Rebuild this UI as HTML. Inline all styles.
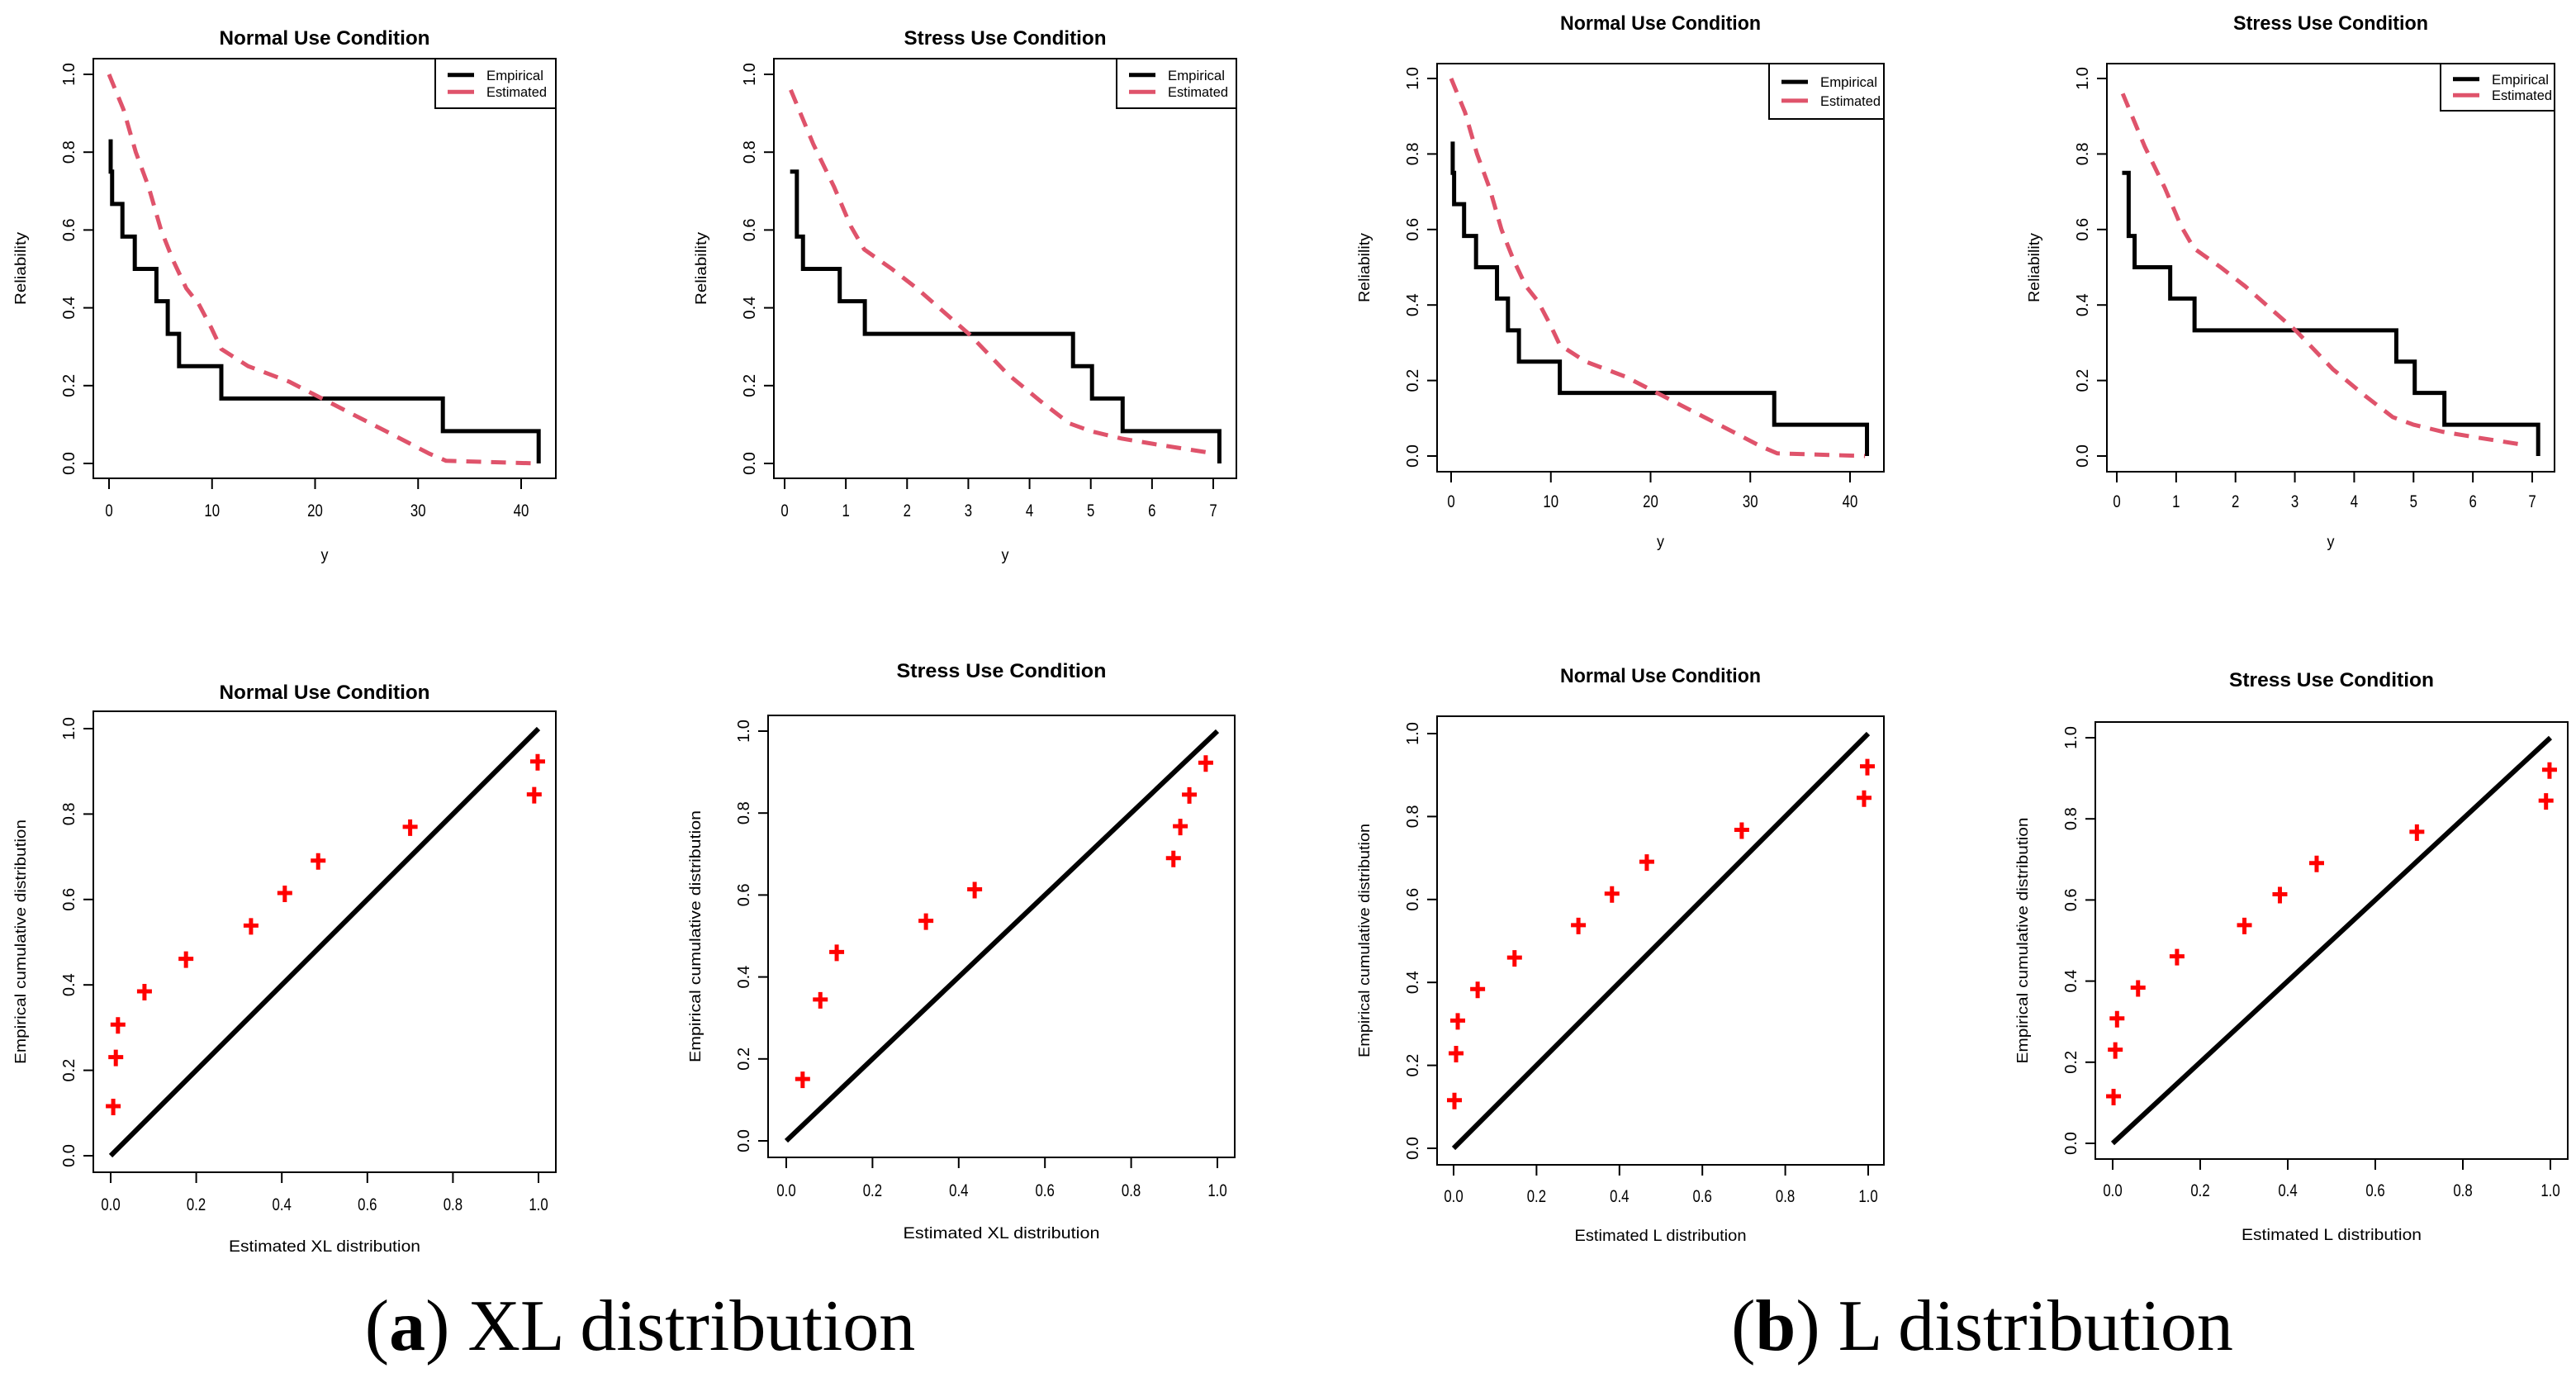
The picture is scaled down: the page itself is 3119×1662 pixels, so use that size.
<!DOCTYPE html>
<html><head><meta charset="utf-8"><style>
html,body{margin:0;padding:0;background:#fff;}
svg{display:block;font-family:"Liberation Sans",sans-serif;}
</style></head><body>
<svg id="fig" width="3119" height="1662" viewBox="0 0 3119 1662" xmlns="http://www.w3.org/2000/svg">
<rect x="0" y="0" width="3119" height="1662" fill="#fff"/>
<text x="775" y="1634" font-family="Liberation Serif, serif" font-size="88" text-anchor="middle">(<tspan font-weight="bold">a</tspan>) XL distribution</text>
<text x="2400" y="1634" font-family="Liberation Serif, serif" font-size="88" text-anchor="middle">(<tspan font-weight="bold">b</tspan>) L distribution</text>
</svg>
<script>
// ---- Data: reliability, normal use ----
const normEmpTimes = [0.16, 0.3, 1.3, 2.5, 4.6, 5.7, 6.8, 10.9, 32.4, 41.7];
const normEmpLevels = [0.75, 0.667, 0.583, 0.5, 0.417, 0.333, 0.25, 0.167, 0.083, 0];
const normEmpStart = 0.833;
const normEstT = [0, 1.4, 2.6, 3.85, 5.05, 6.25, 7.5, 8.7, 9.9, 10.9, 13.5, 17.5, 20, 23.9, 27.9, 31.1, 32.7, 41.5];
const normEstR = [1.0, 0.91, 0.80, 0.71, 0.60, 0.52, 0.45, 0.41, 0.35, 0.294, 0.25, 0.21, 0.176, 0.123, 0.069, 0.025, 0.007, 0.0];
// ---- Data: reliability, stress use ----
const strEmpTimes = [0.2, 0.3, 0.9, 1.31, 4.71, 5.02, 5.52, 7.1];
const strEmpLevels = [0.583, 0.5, 0.417, 0.333, 0.25, 0.167, 0.083, 0];
const strEmpStart = 0.75;
const strEmpStartT = 0.09;
const strEstT = [0.1, 0.47, 0.81, 1.08, 1.3, 1.75, 2.16, 3.03, 3.64, 4.18, 4.65, 5.0, 5.5, 6.07, 6.88];
const strEstR = [0.96, 0.82, 0.71, 0.61, 0.55, 0.50, 0.45, 0.33, 0.23, 0.16, 0.103, 0.083, 0.064, 0.049, 0.029];
// ---- Data: PP plots ----
const ppXLNormX = [0.006, 0.012, 0.017, 0.079, 0.176, 0.328, 0.407, 0.485, 0.70, 0.99, 0.998];
const ppXLNormY = [0.116, 0.231, 0.307, 0.385, 0.461, 0.539, 0.615, 0.691, 0.77, 0.846, 0.923];
const ppXLStrX = [0.038, 0.079, 0.117, 0.324, 0.437, 0.898, 0.914, 0.935, 0.973];
const ppXLStrY = [0.151, 0.345, 0.461, 0.537, 0.614, 0.690, 0.768, 0.845, 0.923];
const ppLNormX = [0.002, 0.006, 0.01, 0.058, 0.147, 0.301, 0.382, 0.466, 0.695, 0.99, 0.998];
const ppLNormY = [0.116, 0.229, 0.308, 0.384, 0.46, 0.538, 0.614, 0.691, 0.768, 0.845, 0.921];
const ppLStrX = [0.002, 0.006, 0.01, 0.058, 0.147, 0.301, 0.382, 0.466, 0.695, 0.99, 0.998];
const ppLStrY = [0.116, 0.231, 0.308, 0.384, 0.461, 0.538, 0.614, 0.691, 0.768, 0.845, 0.921];
const yTicksR = [0, 0.2, 0.4, 0.6, 0.8, 1.0];
const yTickLabels = ["0.0", "0.2", "0.4", "0.6", "0.8", "1.0"];
const xTicksNorm = [0, 10, 20, 30, 40];
const xTicksStr = [0, 1, 2, 3, 4, 5, 6, 7];
const xTicksPP = [0, 0.2, 0.4, 0.6, 0.8, 1.0];
const xTickLabelsPP = ["0.0", "0.2", "0.4", "0.6", "0.8", "1.0"];

const NS = "http://www.w3.org/2000/svg";
const svg = document.getElementById("fig");
function mk(tag, parent, attrs) {
  const e = document.createElementNS(NS, tag);
  for (const k in attrs) e.setAttribute(k, attrs[k]);
  parent.appendChild(e);
  return e;
}
function panel(c) {
  const g = mk("g", svg, {});
  
  
  const sx = v => c.x0 + (v - c.d0) / (c.d1 - c.d0) * (c.x1 - c.x0);
  const sy = v => c.y0 + v * (c.y1 - c.y0);
  const box = mk("rect", g, {x: c.bl, y: c.bt, width: c.br - c.bl, height: c.bb - c.bt, fill: "none", stroke: "#000", "stroke-width": 2});
  
  
  const title = mk("text", g, {x: (c.bl + c.br) / 2, y: c.ty, "text-anchor": "middle", "font-size": 24, "font-weight": "bold", textLength: c.tw, lengthAdjust: "spacingAndGlyphs"});
  title.textContent = c.title;
  
  
  c.xt.forEach((v, i) => {
    const x = sx(v);
    const t = mk("line", g, {x1: x, x2: x, y1: c.bb, y2: c.bb + 13, stroke: "#000", "stroke-width": 2});
    
    
    const l = mk("text", g, {x: x, y: c.xly, "text-anchor": "middle", "font-size": 21, transform: `translate(${x},0) scale(0.8,1) translate(${-x},0)`});
    l.textContent = c.xtl ? c.xtl[i] : String(v);
    
    
  });
  yTicksR.forEach((v, i) => {
    const y = sy(v);
    const t = mk("line", g, {x1: c.bl - 12, x2: c.bl, y1: y, y2: y, stroke: "#000", "stroke-width": 2});
    
    
    const lx = c.bl - 30;
    const l = mk("text", g, {x: lx, y: y, "text-anchor": "middle", "font-size": 20, transform: `rotate(-90 ${lx} ${y}) translate(0,7)`});
    l.textContent = yTickLabels[i];
    
    
  });
  const xl = mk("text", g, {x: (c.bl + c.br) / 2, y: c.xty, "text-anchor": "middle", "font-size": 19, textLength: c.xtw, lengthAdjust: "spacingAndGlyphs"});
  xl.textContent = c.xtitle;
  
  
  const ym = (c.bt + c.bb) / 2, yx = c.bl - 82;
  const yl = mk("text", g, {x: yx, y: ym, "text-anchor": "middle", "font-size": 18, textLength: c.ytw, lengthAdjust: "spacingAndGlyphs", transform: `rotate(-90 ${yx} ${ym})`});
  yl.textContent = c.ytitle;
  
  
  return {g, sx, sy};
}
function relPanel(c, empStartT, empStart, empT, empL, estT, estR) {
  const p = panel(c);
  let d = `M${p.sx(empStartT)},${p.sy(empStart)}`;
  empT.forEach((t, i) => {
    d += ` L${p.sx(t)},${p.sy(i === 0 ? empStart : empL[i - 1])} L${p.sx(t)},${p.sy(empL[i])}`;
  });
  const emp = mk("path", p.g, {d: d, fill: "none", stroke: "#000", "stroke-width": 5});
  
  
  const pts = estT.map((t, i) => `${p.sx(t)},${p.sy(estR[i])}`).join(" ");
  const est = mk("polyline", p.g, {points: pts, fill: "none", stroke: "#DF536B", "stroke-width": 5, "stroke-dasharray": "18,12"});
  
  
  const lg = mk("g", p.g, {});
  
  
  mk("rect", lg, {x: c.br - c.lw, y: c.bt, width: c.lw, height: c.lh, fill: "#fff", stroke: "#000", "stroke-width": 2});
  const lx = c.br - c.lw + 15;
  [["Empirical", "#000"], ["Estimated", "#DF536B"]].forEach((e, i) => {
    const y = c.bt + c.lh * (0.33 + 0.34 * i);
    const ln = mk("line", lg, {x1: lx, x2: lx + 32, y1: y, y2: y, stroke: e[1], "stroke-width": 5});
    
    
    const tx = mk("text", lg, {x: lx + 47, y: y + 6, "font-size": 17, textLength: i ? 73 : 69, lengthAdjust: "spacingAndGlyphs"});
    tx.textContent = e[0];
    
    
  });
}
function ppPanel(c, xs, ys) {
  const p = panel(c);
  const dl = mk("line", p.g, {x1: p.sx(0), y1: p.sy(0), x2: p.sx(1), y2: p.sy(1), stroke: "#000", "stroke-width": 6});
  
  
  xs.forEach((v, i) => {
    const x = p.sx(v), y = p.sy(ys[i]);
    const m = mk("path", p.g, {d: `M${x - 9},${y} H${x + 9} M${x},${y - 9} V${y + 11}`, stroke: "#FF0000", "stroke-width": 5, fill: "none"});
    
    
  });
}
const relY = "Reliability", ppY = "Empirical cumulative distribution";
relPanel({name: "xl-normal-reliability", bl: 113, br: 673, bt: 71, bb: 579, x0: 132, x1: 631, d0: 0, d1: 40, y0: 561, y1: 90,
  title: "Normal Use Condition", tw: 255, ty: 54, xt: xTicksNorm, xly: 625, xtitle: "y", xtw: 9, xty: 678, ytitle: relY, ytw: 88, lw: 146, lh: 60},
  normEmpTimes[0], normEmpStart, normEmpTimes, normEmpLevels, normEstT, normEstR);
relPanel({name: "xl-stress-reliability", bl: 937, br: 1497, bt: 71, bb: 579, x0: 950, x1: 1469, d0: 0, d1: 7, y0: 561, y1: 90,
  title: "Stress Use Condition", tw: 245, ty: 54, xt: xTicksStr, xly: 625, xtitle: "y", xtw: 9, xty: 678, ytitle: relY, ytw: 88, lw: 145, lh: 60},
  strEmpStartT, strEmpStart, strEmpTimes, strEmpLevels, strEstT, strEstR);
relPanel({name: "l-normal-reliability", bl: 1740, br: 2281, bt: 77, bb: 571, x0: 1757, x1: 2240, d0: 0, d1: 40, y0: 552, y1: 95,
  title: "Normal Use Condition", tw: 243, ty: 36, xt: xTicksNorm, xly: 614, xtitle: "y", xtw: 9, xty: 662, ytitle: relY, ytw: 84, lw: 139, lh: 67},
  normEmpTimes[0], normEmpStart, normEmpTimes, normEmpLevels, normEstT, normEstR);
relPanel({name: "l-stress-reliability", bl: 2551, br: 3093, bt: 77, bb: 571, x0: 2563, x1: 3066, d0: 0, d1: 7, y0: 552, y1: 95,
  title: "Stress Use Condition", tw: 236, ty: 36, xt: xTicksStr, xly: 614, xtitle: "y", xtw: 9, xty: 662, ytitle: relY, ytw: 84, lw: 138, lh: 57},
  strEmpStartT, strEmpStart, strEmpTimes, strEmpLevels, strEstT, strEstR);
ppPanel({name: "xl-normal-pp", bl: 113, br: 673, bt: 861, bb: 1419, x0: 134, x1: 652, d0: 0, d1: 1, y0: 1399, y1: 882,
  title: "Normal Use Condition", tw: 255, ty: 846, xt: xTicksPP, xtl: xTickLabelsPP, xly: 1465, xtitle: "Estimated XL distribution", xtw: 232, xty: 1515, ytitle: ppY, ytw: 296},
  ppXLNormX, ppXLNormY);
ppPanel({name: "xl-stress-pp", bl: 930, br: 1495, bt: 866, bb: 1401, x0: 952, x1: 1474, d0: 0, d1: 1, y0: 1381, y1: 885,
  title: "Stress Use Condition", tw: 254, ty: 820, xt: xTicksPP, xtl: xTickLabelsPP, xly: 1448, xtitle: "Estimated XL distribution", xtw: 238, xty: 1499, ytitle: ppY, ytw: 305},
  ppXLStrX, ppXLStrY);
ppPanel({name: "l-normal-pp", bl: 1740, br: 2281, bt: 867, bb: 1410, x0: 1760, x1: 2262, d0: 0, d1: 1, y0: 1390, y1: 888,
  title: "Normal Use Condition", tw: 243, ty: 826, xt: xTicksPP, xtl: xTickLabelsPP, xly: 1455, xtitle: "Estimated L distribution", xtw: 208, xty: 1502, ytitle: ppY, ytw: 283},
  ppLNormX, ppLNormY);
ppPanel({name: "l-stress-pp", bl: 2537, br: 3109, bt: 874, bb: 1403, x0: 2558, x1: 3088, d0: 0, d1: 1, y0: 1384, y1: 893,
  title: "Stress Use Condition", tw: 248, ty: 831, xt: xTicksPP, xtl: xTickLabelsPP, xly: 1448, xtitle: "Estimated L distribution", xtw: 218, xty: 1501, ytitle: ppY, ytw: 298},
  ppLStrX, ppLStrY);
</script>
</body></html>
